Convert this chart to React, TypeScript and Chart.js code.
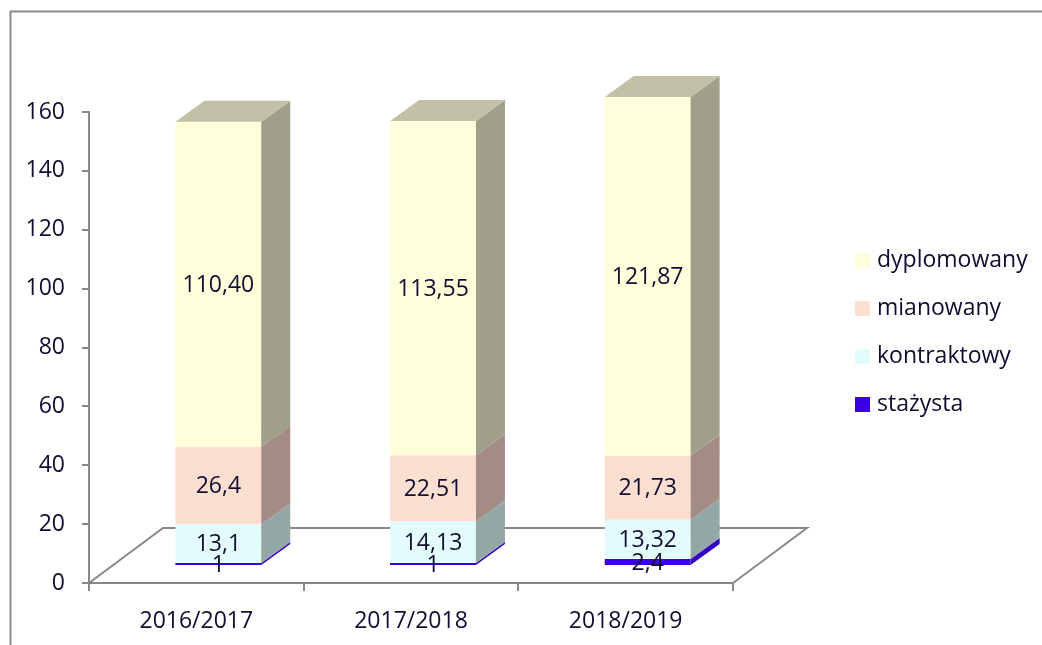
import React, { useEffect, useRef } from 'react';
import { Chart, registerables } from 'chart.js';

Chart.register(...registerables);

// ---- data ----
const categories = ['2016/2017', '2017/2018', '2018/2019'];
const seriesNames = ['stażysta', 'kontraktowy', 'mianowany', 'dyplomowany'];
const stazysta = [1, 1, 2.4];
const kontraktowy = [13.1, 14.13, 13.32];
const mianowany = [26.4, 22.51, 21.73];
const dyplomowany = [110.4, 113.55, 121.87];
const labelDecimals: (number | null)[] = [null, null, null, 2];
const yMin = 0;
const yMax = 160;
const yStep = 20;

// ---- styles ----
const frontColors = ['#3A00E0', '#E3FCFC', '#FDDFD2', '#FFFFDC'];
const sideColors = ['#3300C4', '#93A7A6', '#A38C85', '#A09F89'];
const topColors = ['#3A00E0', '#C6D8D8', '#C8B4AC', '#C2C1A7'];
const TEXT = '#100D30';
const AXIS = '#888888';
const FONT_FAMILY = '"Open Sans", sans-serif';
const FONT_SIZE = 23;

const BAR_DX = 29;
const BAR_DY = -21;
const FLOOR_DX = 74;
const FLOOR_DY = -55;
const SHIFT_DX = 22;
const SHIFT_DY = -17;

function fmt(v: number, dec: number | null) {
  const s = dec == null ? String(v) : v.toFixed(dec);
  return s.replace('.', ',');
}

const threeD = {
  id: 'threeD',
  beforeDraw(chart: any) {
    const ctx = chart.ctx;
    ctx.save();
    ctx.strokeStyle = '#8C8C8C';
    ctx.lineWidth = 2;
    ctx.strokeRect(10.5, 11.5, 1200, 800);
    ctx.restore();
  },
  beforeDatasetsDraw(chart: any) {
    const ctx = chart.ctx;
    const { left, right, bottom } = chart.chartArea;
    ctx.save();
    ctx.strokeStyle = AXIS;
    ctx.lineWidth = 2;
    ctx.beginPath();
    ctx.moveTo(left, bottom);
    ctx.lineTo(left + FLOOR_DX, bottom + FLOOR_DY);
    ctx.lineTo(right + FLOOR_DX, bottom + FLOOR_DY);
    ctx.lineTo(right, bottom);
    ctx.stroke();
    ctx.restore();
    ctx.save();
    ctx.translate(SHIFT_DX, SHIFT_DY);
  },
  afterDatasetsDraw(chart: any) {
    const ctx = chart.ctx;
    const n = chart.data.datasets.length;
    for (let i = 0; i < n; i++) {
      const meta = chart.getDatasetMeta(i);
      meta.data.forEach((el: any) => {
        const w = el.width;
        const l = el.x - w / 2;
        const r = el.x + w / 2;
        const t = Math.min(el.y, el.base);
        const b = Math.max(el.y, el.base);
        ctx.fillStyle = sideColors[i];
        ctx.beginPath();
        ctx.moveTo(r, b);
        ctx.lineTo(r, t);
        ctx.lineTo(r + BAR_DX, t + BAR_DY);
        ctx.lineTo(r + BAR_DX, b + BAR_DY);
        ctx.closePath();
        ctx.fill();
        if (i === n - 1) {
          ctx.fillStyle = topColors[i];
          ctx.beginPath();
          ctx.moveTo(l, t);
          ctx.lineTo(l + BAR_DX, t + BAR_DY);
          ctx.lineTo(r + BAR_DX, t + BAR_DY);
          ctx.lineTo(r, t);
          ctx.closePath();
          ctx.fill();
        }
      });
    }
    ctx.fillStyle = TEXT;
    ctx.font = `${FONT_SIZE}px ${FONT_FAMILY}`;
    ctx.textAlign = 'center';
    ctx.textBaseline = 'middle';
    for (let i = 0; i < n; i++) {
      const meta = chart.getDatasetMeta(i);
      const ds = chart.data.datasets[i];
      meta.data.forEach((el: any, j: number) => {
        const yc = (el.y + el.base) / 2;
        ctx.fillText(fmt(ds.data[j], labelDecimals[i]), el.x, yc + 1);
      });
    }
    ctx.restore();
  },
  afterDraw(chart: any) {
    const ctx = chart.ctx;
    const n = chart.data.datasets.length;
    ctx.save();
    ctx.font = `${FONT_SIZE}px ${FONT_FAMILY}`;
    ctx.textAlign = 'left';
    ctx.textBaseline = 'middle';
    for (let k = 0; k < n; k++) {
      const i = n - 1 - k;
      const yc = 260 + k * 48;
      ctx.fillStyle = frontColors[i];
      ctx.fillRect(855, yc - 7, 15, 15);
      ctx.fillStyle = TEXT;
      ctx.fillText(chart.data.datasets[i].label, 877, yc);
    }
    ctx.restore();
  },
};

export default function App() {
  const ref = useRef<HTMLCanvasElement>(null);
  useEffect(() => {
    if (!ref.current) return;
    const values = [stazysta, kontraktowy, mianowany, dyplomowany];
    const chart = new Chart(ref.current, {
      type: 'bar',
      data: {
        labels: categories,
        datasets: values.map((d, i) => ({
          label: seriesNames[i],
          data: d,
          backgroundColor: frontColors[i],
          borderWidth: 0,
          categoryPercentage: 1,
          barPercentage: 0.4,
          clip: false as any,
        })),
      },
      options: {
        responsive: false,
        animation: false,
        maintainAspectRatio: false,
        layout: { padding: { left: 0, top: 112, right: 309, bottom: 0 } },
        plugins: { legend: { display: false }, tooltip: { enabled: false } },
        scales: {
          x: {
            stacked: true,
            offset: true,
            grid: {
              display: true,
              drawOnChartArea: false,
              drawTicks: true,
              tickLength: 8,
              color: AXIS,
              lineWidth: 2,
              offset: true,
            },
            border: { display: true, color: AXIS, width: 2 },
            ticks: { color: TEXT, font: { family: FONT_FAMILY, size: FONT_SIZE }, padding: 17 },
            afterFit: (s: any) => {
              s.height = 62;
            },
          },
          y: {
            stacked: true,
            min: yMin,
            max: yMax,
            grid: {
              display: true,
              drawOnChartArea: false,
              drawTicks: true,
              tickLength: 7,
              color: AXIS,
              lineWidth: 2,
            },
            border: { display: true, color: AXIS, width: 2 },
            ticks: {
              stepSize: yStep,
              color: TEXT,
              font: { family: FONT_FAMILY, size: FONT_SIZE },
              padding: 17,
            },
            afterFit: (s: any) => {
              s.width = 89;
            },
          },
        },
      },
      plugins: [threeD],
    });
    return () => chart.destroy();
  }, []);
  return (
    <div style={{ position: 'fixed', left: 0, top: 0, width: 1042, height: 645, background: '#fff' }}>
      <canvas ref={ref} width={1042} height={645} style={{ display: 'block' }} />
    </div>
  );
}
